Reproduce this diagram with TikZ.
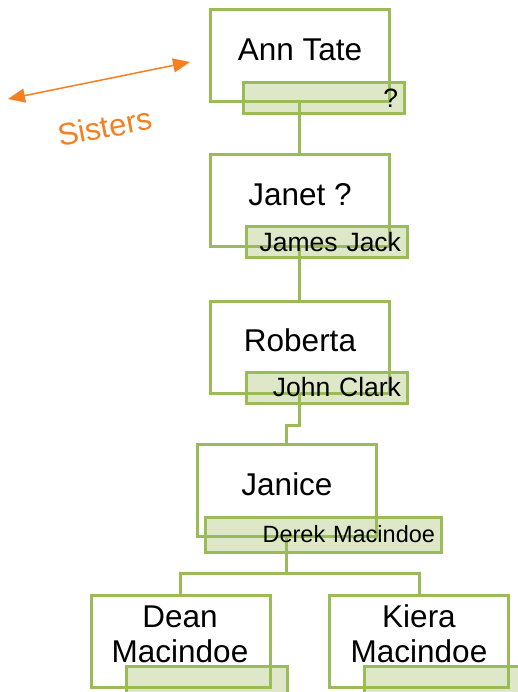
\documentclass[tikz,border=0pt]{standalone}
\usepackage{fontspec}
\setmainfont{Liberation Sans}
\usetikzlibrary{arrows.meta}
\definecolor{leaf}{RGB}{155,187,89}
\definecolor{sis}{RGB}{245,128,32}

\begin{document}
\begin{tikzpicture}[x=1pt,y=-1pt]
\clip (0,0) rectangle (518,692);
\fill[white] (0,0) rectangle (518,692);

\begin{scope}[every node/.style={rectangle,draw=leaf,fill=white,line width=3pt,
    minimum width=179pt,minimum height=92pt,inner sep=0pt}]
    \node (ann)    at (299.5,55.5) {};
    \node (janet)  at (299.5,201)  {};
    \node (roberta) at (299.5,347.5) {};
    \node (janice) at (286.5,490)  {};
    \node (dean)   at (180.5,641)  {};
    \node (kiera)  at (419,641)    {};
\end{scope}

\begin{scope}[every node/.style={font=\fontsize{31.5}{35}\selectfont,align=center,inner sep=0pt}]
    \node (annname)    at (300,50)  {Ann Tate};
    \node (janetname)  at (300,195) {Janet ?};
    \node (robertaname) at (300,340) {Roberta};
    \node (janicename) at (287,484) {Janice};
    \node (deanname)   at (180,634) {Dean\\Macindoe};
    \node (kieraname)  at (419,634) {Kiera\\Macindoe};
\end{scope}

\begin{scope}[draw=leaf,line width=3pt]
    \draw (ann) -- (janet);
    \draw (janet) -- (roberta);
    \draw (roberta.south) -- ++(0,30) -| (janice.north);
    \draw (janice.south) -- ++(0,36) -| (dean.north);
    \draw (janice.south) -- ++(0,36) -| (kiera.north);
\end{scope}

\begin{scope}[every node/.style={rectangle,draw=leaf,fill=leaf,fill opacity=0.33,
    draw opacity=1,text opacity=1,line width=3pt,align=right,inner xsep=6pt,
    inner ysep=0pt,text width=149pt,minimum height=31pt,
    font=\fontsize{26.5}{29}\selectfont}]
    \node (annsp)    at (323.5,98.5) {?};
    \node (janetsp)  at (326.5,242)  {James Jack};
    \node (robertasp) at (326.5,387.5) {John Clark};
    \node[text width=224pt,minimum height=35pt,font=\fontsize{23.5}{26}\selectfont]
        (janicesp) at (323,534.5) {Derek Macindoe};
    \node (deansp)   at (207,682)   {};
    \node (kierasp)  at (445,682)   {};
\end{scope}

    \coordinate (sisleft) at (8,99);
    \coordinate (sisright) at (190,62);
    \draw[sis,line width=1.5pt,{Triangle[length=17pt,width=14pt]}-{Triangle[length=17pt,width=14pt]}]
        (sisleft) -- (sisright);
    \node[sis,rotate=11,font=\fontsize{31}{35}\selectfont] (sistext) at (105,127) {Sisters};

\end{tikzpicture}
\end{document}
